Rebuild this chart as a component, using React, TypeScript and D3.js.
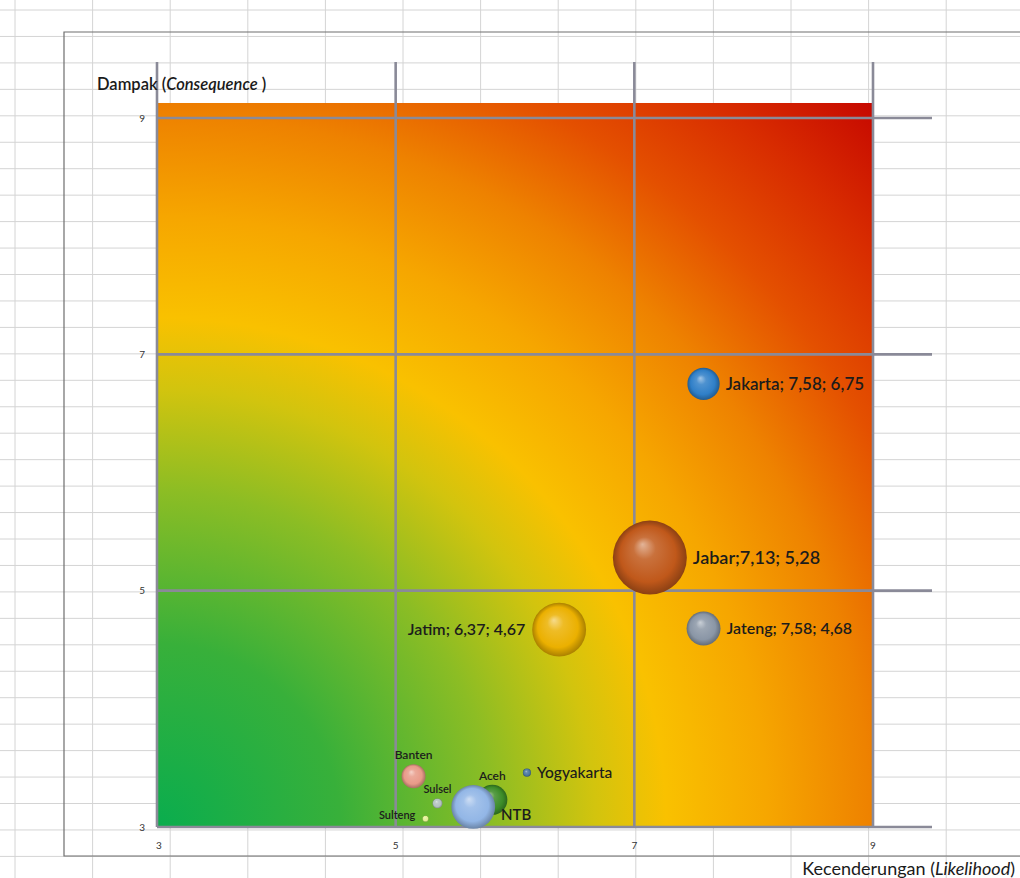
import React, { useRef, useEffect } from 'react';
import * as d3 from 'd3';

// Province risk map: likelihood (x) vs consequence (y), bubble = size
const provinces = ['Jakarta', 'Jabar', 'Jateng', 'Jatim', 'Banten', 'Aceh', 'Yogyakarta', 'NTB', 'Sulsel', 'Sulteng'];
const likelihood = [7.58, 7.13, 7.58, 6.37, 5.15, 5.81, 6.1, 5.65, 5.35, 5.25];
const consequence = [6.75, 5.28, 4.68, 4.67, 3.43, 3.23, 3.46, 3.17, 3.2, 3.07];
const bubbleSize = [19, 100, 21, 53, 10.5, 16.5, 1.2, 35, 1.8, 0.7];
const bubbleColors = ['#2f7fc8', '#c0581a', '#8a96a6', '#ebb000', '#e89a88', '#3c8c28', '#4a78a0', '#92b6e6', '#b4c2c2', '#e2f090'];
const showValues = [true, true, true, true, false, false, false, false, false, false];
const labelSide = ['right', 'right', 'right', 'left', 'above', 'above', 'right', 'right', 'above', 'left'];
const labelFont = [17, 18, 16, 16, 12, 12, 15.5, 15, 11, 11];

const xTicks = [3, 5, 7, 9];
const yTicks = [3, 5, 7, 9];
const xDomain = [3, 9];
const yDomain = [3, 9];
const yTop = 9.127;

const fmt = (v: number) => v.toFixed(2).replace('.', ',');

const W = 1020;
const H = 878;

export default function App() {
  const svgRef = useRef<SVGSVGElement>(null);

  useEffect(() => {
    if (!svgRef.current) return;
    const svg = d3.select(svgRef.current);
    svg.selectAll('*').remove();

    const font = 'Lato, "Open Sans", sans-serif';
    const x = d3.scaleLinear().domain(xDomain).range([157, 873]);
    const y = d3.scaleLinear().domain(yDomain).range([827, 118]);
    const r = d3.scaleSqrt().domain([0, d3.max(bubbleSize) as number]).range([0, 37]);

    svg.append('rect').attr('width', W).attr('height', H).attr('fill', 'white');

    // spreadsheet cells behind the chart
    const sheet = svg.append('g').attr('stroke', '#d4d4d4').attr('stroke-width', 1);
    for (let cx = 15; cx < W; cx += 77.6) {
      sheet.append('line').attr('x1', cx).attr('x2', cx).attr('y1', 0).attr('y2', H);
    }
    for (let cy = 10; cy < H; cy += 26.45) {
      sheet.append('line').attr('x1', 0).attr('x2', W).attr('y1', cy).attr('y2', cy);
    }

    // chart area frame
    svg.append('path')
      .attr('d', `M ${W} 32 H 64 V 856 H ${W}`)
      .attr('fill', 'none')
      .attr('stroke', '#6e6e6e')
      .attr('stroke-width', 1.2);

    const defs = svg.append('defs');
    const x0 = x(xDomain[0]);
    const x1 = x(xDomain[1]);
    const y0 = y(yDomain[0]);
    const y1 = y(yTop);
    const diag = Math.hypot(x1 - x0, y0 - y1);

    const bg = defs.append('radialGradient')
      .attr('id', 'riskBg')
      .attr('gradientUnits', 'userSpaceOnUse')
      .attr('cx', x0).attr('cy', y0).attr('r', diag);
    [
      [0, '#0aad4e'], [0.18, '#38b03a'], [0.33, '#8cbd24'], [0.43, '#d2c40e'],
      [0.5, '#f9c100'], [0.6, '#f6a600'], [0.7, '#ee8200'], [0.8, '#e45000'],
      [0.9, '#d82c00'], [1, '#c60800'],
    ].forEach(([o, c]) => bg.append('stop').attr('offset', o as number).attr('stop-color', c as string));

    svg.append('rect')
      .attr('x', x0).attr('y', y1)
      .attr('width', x1 - x0).attr('height', y0 - y1)
      .attr('fill', 'url(#riskBg)');

    defs.append('clipPath').attr('id', 'plotClip')
      .append('rect')
      .attr('x', x0).attr('y', y1)
      .attr('width', x1 - x0).attr('height', y0 - y1);

    // gridlines (overshooting the plot like the original)
    const grid = svg.append('g').attr('stroke', '#8a8a98').attr('stroke-width', 2.6);
    yTicks.forEach(t => {
      grid.append('line').attr('x1', x0).attr('x2', 932).attr('y1', y(t)).attr('y2', y(t));
    });
    xTicks.forEach(t => {
      grid.append('line').attr('x1', x(t)).attr('x2', x(t)).attr('y1', 62).attr('y2', y0);
    });

    // tick labels
    svg.append('g')
      .selectAll('text')
      .data(yTicks)
      .join('text')
      .attr('x', 145)
      .attr('y', d => y(d))
      .attr('dy', '0.35em')
      .attr('text-anchor', 'end')
      .attr('font-family', font)
      .attr('font-size', 10)
      .attr('fill', '#333')
      .text(d => d);

    svg.append('g')
      .selectAll('text')
      .data(xTicks)
      .join('text')
      .attr('x', d => x(d) + (d === 3 ? 2 : 0))
      .attr('y', 849)
      .attr('text-anchor', 'middle')
      .attr('font-family', font)
      .attr('font-size', 10)
      .attr('fill', '#333')
      .text(d => d);

    // axis titles
    const yt = svg.append('text')
      .attr('x', 97).attr('y', 90)
      .attr('font-family', font)
      .attr('font-size', 16.5)
      .attr('font-weight', 600)
      .attr('fill', '#1a1a1a');
    yt.append('tspan').text('Dampak (');
    yt.append('tspan').attr('font-style', 'italic').text('Consequence');
    yt.append('tspan').text(' )');

    const xt = svg.append('text')
      .attr('x', 1015).attr('y', 875)
      .attr('text-anchor', 'end')
      .attr('font-family', font)
      .attr('font-size', 18)
      .attr('fill', '#1a1a1a');
    xt.append('tspan').text('Kecenderungan (');
    xt.append('tspan').attr('font-style', 'italic').text('Likelihood');
    xt.append('tspan').text(')');

    // sphere shading per bubble
    bubbleColors.forEach((c, i) => {
      const g = defs.append('radialGradient')
        .attr('id', `ball${i}`)
        .attr('cx', 0.5).attr('cy', 0.5).attr('r', 0.5)
        .attr('fx', 0.4).attr('fy', 0.32);
      g.append('stop').attr('offset', 0).attr('stop-color', d3.interpolateRgb(c, '#ffffff')(0.55));
      g.append('stop').attr('offset', 0.3).attr('stop-color', d3.interpolateRgb(c, '#ffffff')(0.15));
      g.append('stop').attr('offset', 0.75).attr('stop-color', c);
      g.append('stop').attr('offset', 1).attr('stop-color', d3.color(c)!.darker(0.9).formatHex());
    });

    const idx = d3.range(provinces.length);
    svg.append('g')
      .selectAll('circle')
      .data(idx)
      .join('circle')
      .attr('cx', i => x(likelihood[i]))
      .attr('cy', i => y(consequence[i]))
      .attr('r', i => r(bubbleSize[i]))
      .attr('fill', i => `url(#ball${i})`);

    // data labels
    const labels = svg.append('g').attr('clip-path', 'url(#plotClip)');
    idx.forEach(i => {
      const cx = x(likelihood[i]);
      const cy = y(consequence[i]);
      const rr = r(bubbleSize[i]);
      const txt = showValues[i]
        ? `${provinces[i]}; ${fmt(likelihood[i])}; ${fmt(consequence[i])}`
        : provinces[i];
      const side = labelSide[i];
      const t = labels.append('text')
        .attr('font-family', font)
        .attr('font-size', labelFont[i])
        .attr('font-weight', provinces[i] === 'Yogyakarta' ? 500 : 600)
        .attr('fill', '#1c1c1c')
        .text(provinces[i] === 'Jabar' ? txt.replace('Jabar; ', 'Jabar;') : txt);
      if (side === 'right') {
        t.attr('x', cx + rr + 6).attr('y', cy + (provinces[i] === 'NTB' ? 8 : 0)).attr('dy', '0.35em');
      } else if (side === 'left') {
        t.attr('x', cx - rr - 7).attr('y', cy - (provinces[i] === 'Sulteng' ? 4 : 0)).attr('dy', '0.35em').attr('text-anchor', 'end');
      } else {
        t.attr('x', cx).attr('y', cy - rr - 5).attr('text-anchor', 'middle');
      }
    });
  }, []);

  return (
    <svg
      ref={svgRef}
      width={W}
      height={H}
      style={{ position: 'absolute', left: 0, top: 0, display: 'block' }}
    />
  );
}
